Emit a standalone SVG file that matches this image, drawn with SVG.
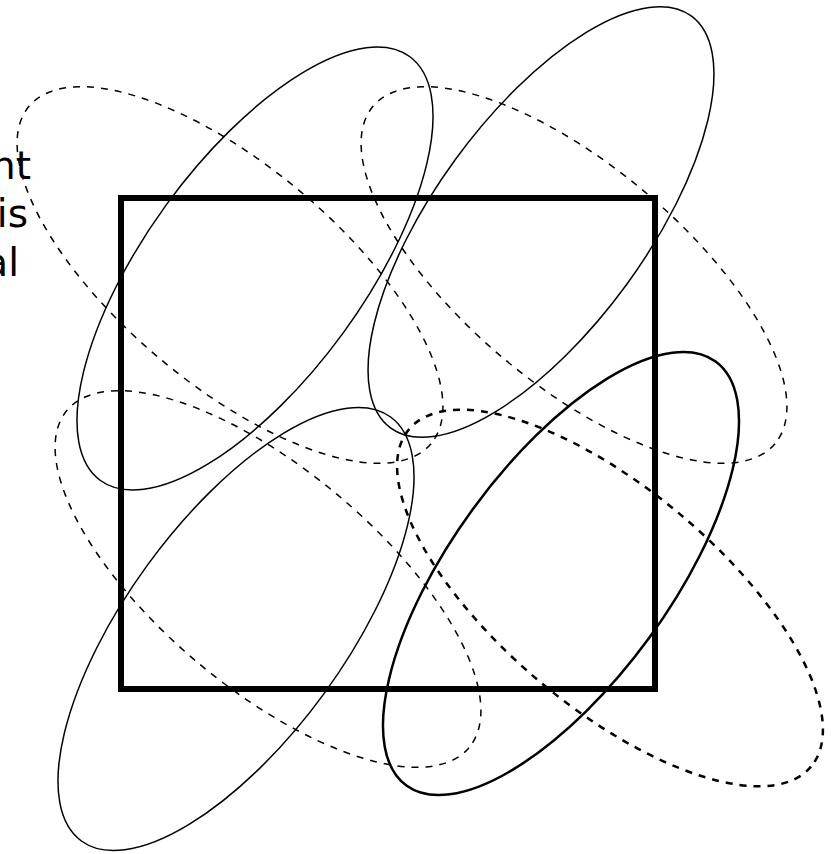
<svg xmlns="http://www.w3.org/2000/svg" width="831" height="854" viewBox="0 0 831 854">
<style>
.sol{fill:none;stroke:#000;stroke-width:1.5}
.dsh{fill:none;stroke:#000;stroke-width:1.5;stroke-dasharray:7 7}
.thick{stroke-width:2.5}
.box{fill:none;stroke:#000;stroke-width:6}
.lbl{font-family:"DejaVu Sans",sans-serif;font-size:39px;fill:#000;text-anchor:end}
</style>
<rect width="831" height="854" fill="#fff"/>
<g id="labels">
<text class="lbl" x="31" y="179">nt</text>
<text class="lbl" x="28" y="227">is</text>
<text class="lbl" x="19" y="276">al</text>
</g>
<g id="box"><rect class="box" x="121" y="198" width="534" height="491"/></g>
<g id="dashed-tl"><ellipse class="dsh" cx="0" cy="0" rx="262.4" ry="109.2" transform="translate(230,275) rotate(40)"/></g>
<g id="dashed-tr"><ellipse class="dsh" cx="0" cy="0" rx="262.4" ry="109.2" transform="translate(574,275) rotate(40)"/></g>
<g id="dashed-bl"><ellipse class="dsh" cx="0" cy="0" rx="262.4" ry="109.2" transform="translate(268,579) rotate(40)"/></g>
<g id="dashed-br"><ellipse class="dsh thick" cx="0" cy="0" rx="262.4" ry="109.2" transform="translate(610,598) rotate(40)"/></g>
<g id="solid-tl"><ellipse class="sol" cx="0" cy="0" rx="262.4" ry="109.2" transform="translate(255,268.5) rotate(-53.9)"/></g>
<g id="solid-tr"><ellipse class="sol" cx="0" cy="0" rx="255" ry="106" transform="translate(541,222) rotate(-53.9)"/></g>
<g id="solid-bl"><ellipse class="sol" cx="0" cy="0" rx="262.4" ry="109.2" transform="translate(236,629) rotate(-53.9)"/></g>
<g id="solid-br"><ellipse class="sol thick" cx="0" cy="0" rx="262.4" ry="109.2" transform="translate(561,573.5) rotate(-53.9)"/></g>
</svg>
